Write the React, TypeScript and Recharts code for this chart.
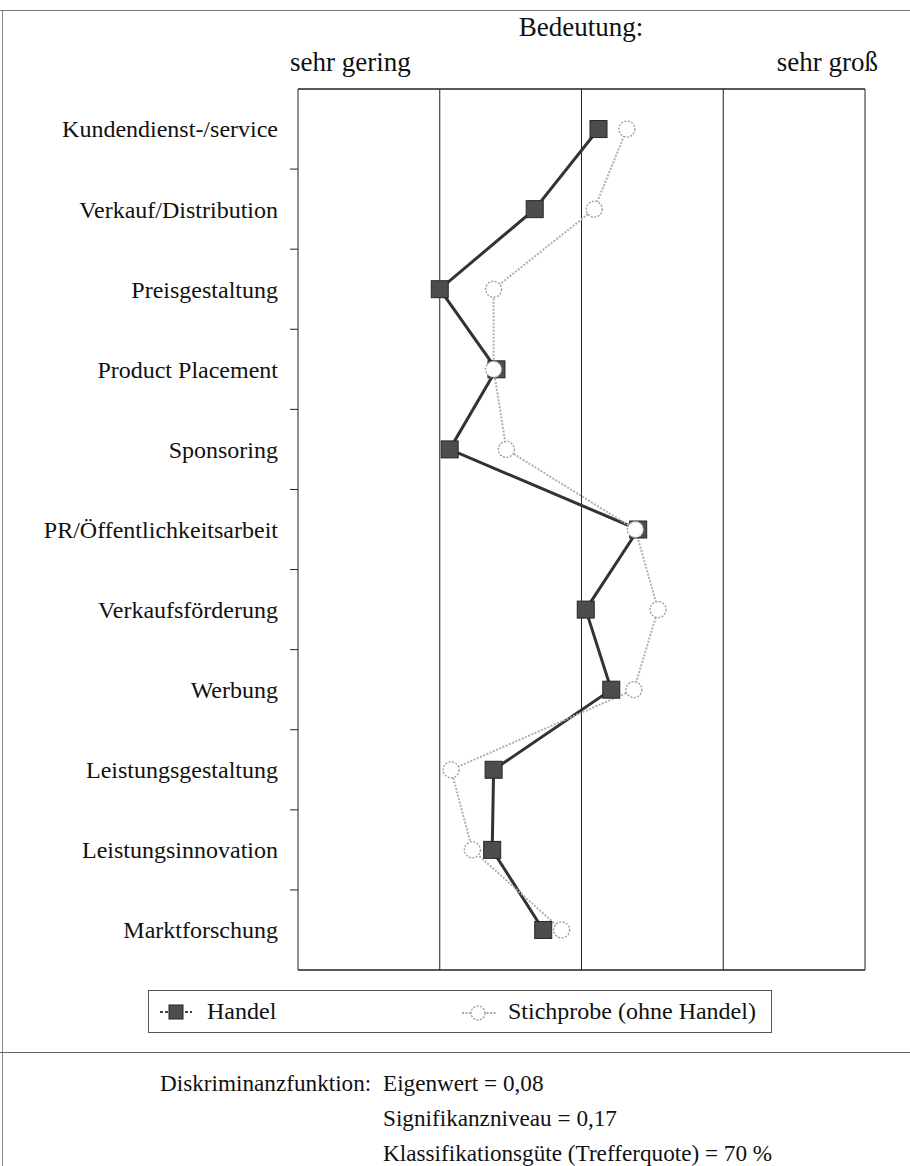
import { LineChart, Line, XAxis, YAxis, ReferenceLine } from 'recharts'

const categories = [
  'Kundendienst-/service',
  'Verkauf/Distribution',
  'Preisgestaltung',
  'Product Placement',
  'Sponsoring',
  'PR/Öffentlichkeitsarbeit',
  'Verkaufsförderung',
  'Werbung',
  'Leistungsgestaltung',
  'Leistungsinnovation',
  'Marktforschung',
]

// Bedeutung: 1 = sehr gering ... 5 = sehr groß
const handel = [3.12, 2.67, 2.0, 2.4, 2.07, 3.4, 3.03, 3.21, 2.38, 2.37, 2.73]
const stichprobe = [3.32, 3.09, 2.38, 2.38, 2.47, 3.38, 3.54, 3.37, 2.08, 2.23, 2.86]

const scaleLines = [2, 3, 4, 5]
const statsLines = ['Eigenwert = 0,08', 'Signifikanzniveau = 0,17', 'Klassifikationsgüte (Trefferquote) = 70 %']

const FONT = '"Liberation Serif", "Times New Roman", serif'

const data = categories.map((name, i) => ({
  name,
  pos: i + 0.5,
  handel: handel[i],
  stichprobe: stichprobe[i],
}))

// labels sit in the middle of each row, tick marks between the rows
const yTicks: number[] = []
for (let i = 0; i < categories.length; i++) {
  if (i > 0) yTicks.push(i)
  yTicks.push(i + 0.5)
}

const RowTick = ({ x, y, payload }: any) => {
  const v = payload.value
  if (Number.isInteger(v)) {
    return <line x1={x + 12} x2={x + 20} y1={y} y2={y} stroke="#222" strokeWidth={1} />
  }
  return (
    <text x={x} y={y} dy="0.35em" textAnchor="end" fill="#111" fontSize={24} fontFamily={FONT}>
      {categories[Math.floor(v)]}
    </text>
  )
}

const SquareDot = ({ cx, cy }: any) => (
  <rect x={cx - 8.5} y={cy - 8.5} width={17} height={17} fill="#4d4d4d" stroke="#262626" strokeWidth={1} />
)

const CircleDot = ({ cx, cy }: any) => (
  <circle cx={cx} cy={cy} r={8} fill="#fff" stroke="#9a9a9a" strokeWidth={1.3} strokeDasharray="2 1.5" />
)

export default function App() {
  return (
    <div style={{ position: 'absolute', left: 0, top: 0, width: 910, height: 1166, background: '#fff', fontFamily: FONT, color: '#111' }}>
      {/* frame */}
      <div style={{ position: 'absolute', left: 0, top: 10, width: 910, height: 1, background: '#777' }} />
      <div style={{ position: 'absolute', left: 2, top: 10, width: 1, height: 1156, background: '#888' }} />
      <div style={{ position: 'absolute', left: 0, top: 1052, width: 910, height: 1, background: '#666' }} />

      {/* header */}
      <div style={{ position: 'absolute', left: 481, width: 200, top: 14, fontSize: 27, lineHeight: '27px', textAlign: 'center' }}>Bedeutung:</div>
      <div style={{ position: 'absolute', left: 290, top: 49, fontSize: 27, lineHeight: '27px' }}>sehr gering</div>
      <div style={{ position: 'absolute', right: 910 - 878, top: 49, fontSize: 27, lineHeight: '27px' }}>sehr groß</div>

      <div style={{ position: 'absolute', left: 0, top: 0 }}>
        <LineChart
          width={910}
          height={980}
          data={data}
          layout="vertical"
          margin={{ top: 89, right: 45, left: 0, bottom: 10 }}
        >
          <XAxis type="number" domain={[1, 5]} hide />
          <YAxis
            type="number"
            dataKey="pos"
            domain={[0, categories.length]}
            ticks={yTicks}
            interval={0}
            width={298}
            tickSize={0}
            tickMargin={20}
            tickLine={false}
            axisLine={{ stroke: '#222', strokeWidth: 1 }}
            tick={<RowTick />}
          />
          <ReferenceLine y={0} stroke="#222" strokeWidth={1.5} />
          <ReferenceLine y={categories.length} stroke="#222" strokeWidth={1.5} />
          {scaleLines.map((v) => (
            <ReferenceLine key={v} x={v} stroke="#222" strokeWidth={1} />
          ))}
          <Line
            dataKey="handel"
            name="Handel"
            stroke="#333"
            strokeWidth={3}
            dot={<SquareDot />}
            activeDot={false}
            isAnimationActive={false}
          />
          <Line
            dataKey="stichprobe"
            name="Stichprobe (ohne Handel)"
            stroke="#b0b0b0"
            strokeWidth={2}
            strokeDasharray="2 1.5"
            dot={<CircleDot />}
            activeDot={false}
            isAnimationActive={false}
          />
        </LineChart>
      </div>

      {/* legend */}
      <div style={{ position: 'absolute', left: 148, top: 990, width: 624, height: 43, border: '1px solid #555', boxSizing: 'border-box' }}>
        <svg style={{ position: 'absolute', left: 8, top: 11 }} width={40} height={20}>
          <line x1={3} x2={35} y1={10} y2={10} stroke="#444" strokeWidth={2} strokeDasharray="3 2" />
          <rect x={12} y={3} width={14} height={14} fill="#4d4d4d" stroke="#262626" />
        </svg>
        <div style={{ position: 'absolute', left: 58, top: 7, fontSize: 24, lineHeight: '26px' }}>Handel</div>
        <svg style={{ position: 'absolute', left: 311, top: 11 }} width={40} height={22}>
          <line x1={2} x2={36} y1={11} y2={11} stroke="#aaa" strokeWidth={2} strokeDasharray="2 1.5" />
          <circle cx={18} cy={11} r={7} fill="#fff" stroke="#9a9a9a" strokeWidth={1.3} strokeDasharray="2 1.5" />
        </svg>
        <div style={{ position: 'absolute', left: 359, top: 7, fontSize: 24, lineHeight: '26px' }}>Stichprobe (ohne Handel)</div>
      </div>

      {/* statistics */}
      <div style={{ position: 'absolute', left: 160, top: 1071, fontSize: 23.2, lineHeight: '24px' }}>Diskriminanzfunktion:</div>
      {statsLines.map((t, i) => (
        <div key={t} style={{ position: 'absolute', left: 383, top: 1071 + i * 35, fontSize: 23.2, lineHeight: '24px' }}>{t}</div>
      ))}
    </div>
  )
}
